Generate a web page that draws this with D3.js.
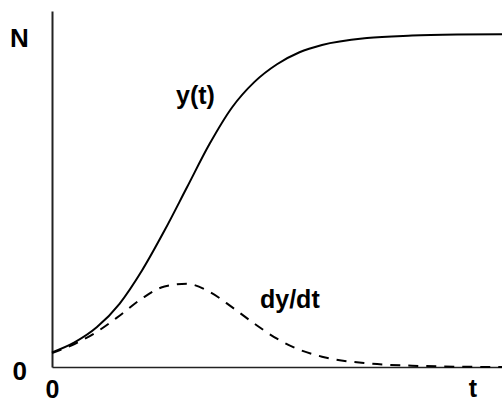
<!DOCTYPE html>
<html>
<head>
<meta charset="utf-8"/>
<style>
  body { margin: 0; background: #fff; }
  svg { display: block; }
  .lbl { font-family: "Liberation Sans", Arial, Helvetica, sans-serif; fill: #000; }
</style>
</head>
<body>
<div id="chart"></div>
<script src="https://cdn.jsdelivr.net/npm/d3@7"></script>
<script>
// values (N scaled so that the plateau is 1)
var tVals  = [0, 0.5, 1, 1.5, 2, 2.5, 3, 3.5, 4, 4.5, 5, 5.5, 6, 7, 8, 9, 10];
var yVals  = [0.044, 0.074, 0.12, 0.19, 0.29, 0.41, 0.54, 0.67, 0.78, 0.857, 0.91, 0.946, 0.968, 0.989, 0.996, 0.999, 1.0];
var dyVals = [0.042, 0.069, 0.106, 0.154, 0.206, 0.242, 0.25, 0.226, 0.18, 0.13, 0.085, 0.052, 0.031, 0.011, 0.004, 0.001, 0];
var xTicks = ["0"];
var yTicks = ["0"];

var W = 502, H = 402;

var svg = d3.select("#chart").append("svg")
    .attr("width", W)
    .attr("height", H);

var x = d3.scaleLinear().domain([0, 10]).range([52, 502]);
var y = d3.scaleLinear().domain([0, 1.07]).range([367, 11]);

// axes
var yAxis = svg.append("g")
    .attr("transform", "translate(52,0)")
    .call(d3.axisLeft(y).tickValues([0]).tickSize(0).tickSizeOuter(0)
          .tickFormat(function(d, i) { return yTicks[i]; }));
yAxis.select(".domain").attr("stroke", "#222").attr("stroke-width", 2);
yAxis.selectAll("text")
    .attr("class", "lbl")
    .attr("x", -25)
    .attr("dy", 12)
    .attr("font-size", 26)
    .attr("font-weight", "bold");

var xAxis = svg.append("g")
    .attr("transform", "translate(0,367)")
    .call(d3.axisBottom(x).tickValues([0]).tickSize(0).tickSizeOuter(0)
          .tickFormat(function(d, i) { return xTicks[i]; }));
xAxis.select(".domain").attr("stroke", "#222").attr("stroke-width", 1.6);
xAxis.selectAll("text")
    .attr("class", "lbl")
    .attr("y", 13)
    .attr("font-size", 25)
    .attr("font-weight", "bold");

// curves
var pts = tVals.map(function(t, i) { return {t: t, y: yVals[i], dy: dyVals[i]}; });

var lineY = d3.line()
    .x(function(d) { return x(d.t); })
    .y(function(d) { return y(d.y); })
    .curve(d3.curveMonotoneX);

var lineDy = d3.line()
    .x(function(d) { return x(d.t); })
    .y(function(d) { return y(d.dy); })
    .curve(d3.curveMonotoneX);

svg.append("path")
    .datum(pts)
    .attr("d", lineY)
    .attr("fill", "none")
    .attr("stroke", "#000")
    .attr("stroke-width", 2);

svg.append("path")
    .datum(pts)
    .attr("d", lineDy)
    .attr("fill", "none")
    .attr("stroke", "#000")
    .attr("stroke-width", 2)
    .attr("stroke-dasharray", "10,8");

// labels
svg.append("text").attr("class", "lbl")
    .attr("x", 10).attr("y", 47)
    .attr("font-size", 26).attr("font-weight", "bold")
    .text("N");

svg.append("text").attr("class", "lbl")
    .attr("x", 473).attr("y", 397)
    .attr("text-anchor", "middle")
    .attr("font-size", 25).attr("font-weight", "bold")
    .text("t");

svg.append("text").attr("class", "lbl")
    .attr("x", 176).attr("y", 104)
    .attr("font-size", 25).attr("font-weight", "bold")
    .text("y(t)");

svg.append("text").attr("class", "lbl")
    .attr("x", 260).attr("y", 308)
    .attr("font-size", 25).attr("font-weight", "bold")
    .text("dy/dt");
</script>
</body>
</html>
